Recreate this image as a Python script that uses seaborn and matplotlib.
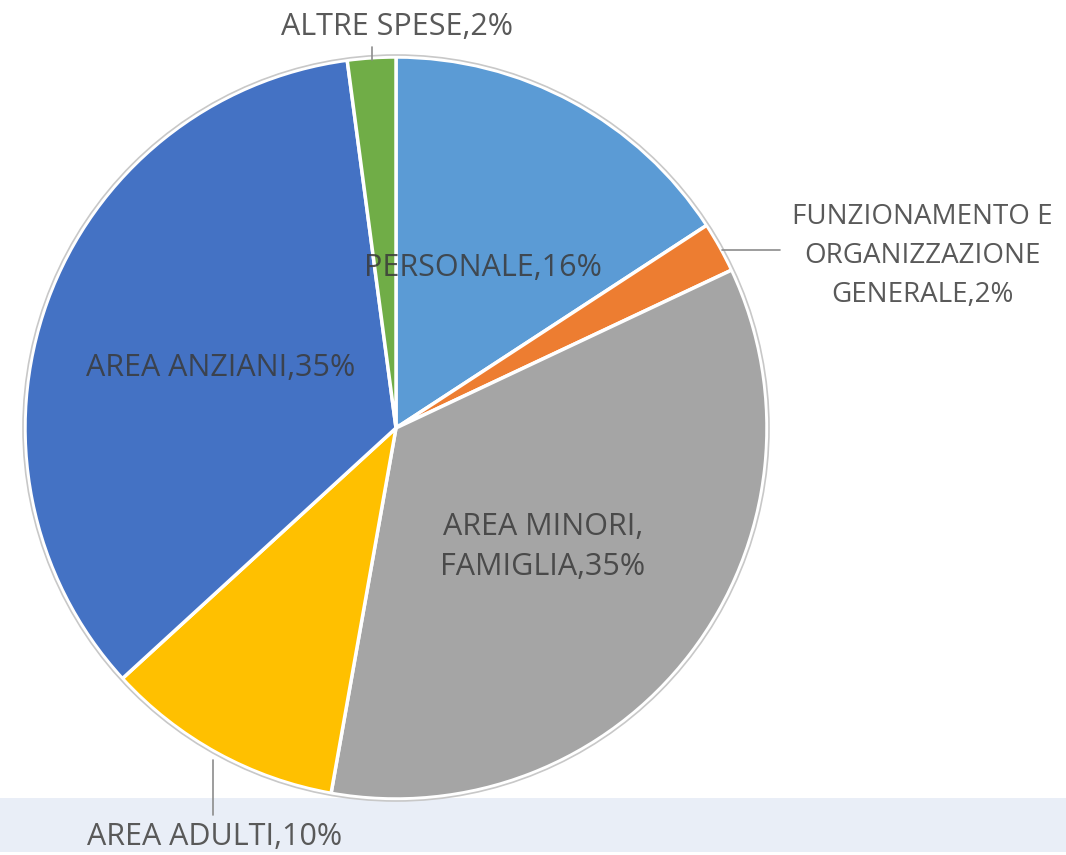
import matplotlib
matplotlib.use("Agg")
import matplotlib.pyplot as plt
import seaborn as sns

categories = ["PERSONALE", "FUNZIONAMENTO E\nORGANIZZAZIONE\nGENERALE", "AREA MINORI,\nFAMIGLIA",
              "AREA ADULTI", "AREA ANZIANI", "ALTRE SPESE"]
shares = [15.8, 2.2, 34.8, 10.4, 34.7, 2.1]
shown_pct = [16, 2, 35, 10, 35, 2]
colors = ["#5B9BD5", "#ED7D31", "#A5A5A5", "#FFC000", "#4472C4", "#70AD47"]

sns.set_theme(style="white")
plt.rcParams["font.family"] = ["Open Sans", "DejaVu Sans"]

fig = plt.figure(figsize=(10.66, 8.55), dpi=100)
ax = fig.add_axes([0, 0, 1, 1])

# light band at the bottom
ax.axhspan(3, 57, color="#E9EEF7", zorder=0, lw=0)

cx, cy, r = 396, 427, 371
ax.pie(shares, colors=colors, startangle=90, counterclock=False, center=(cx, cy), radius=r,
       wedgeprops=dict(edgecolor="white", linewidth=2.5), frame=True)
ax.set_xlim(0, 1066)
ax.set_ylim(0, 855)
ax.axis("off")
ax.add_patch(plt.Circle((cx, cy), r + 2, fill=False, edgecolor="#C8C8C8", lw=1.2, zorder=5))

inside = "#3A3A3A"
outside = "#595959"
fs = 22
lab = [f"{c},{p}%" for c, p in zip(categories, shown_pct)]

ax.text(483, 855 - 268, lab[0], ha="center", va="center", fontsize=fs, color=inside, alpha=0.85, zorder=6)
ax.text(922, 855 - 256, lab[1], ha="center", va="center", fontsize=fs - 2, color=outside,
        linespacing=1.5, zorder=6)
ax.text(543, 855 - 547, lab[2], ha="center", va="center", fontsize=fs, color=inside, alpha=0.85,
        linespacing=1.45, zorder=6)
ax.text(215, 855 - 837, lab[3], ha="center", va="center", fontsize=fs, color=outside, zorder=6)
ax.text(221, 855 - 368, lab[4], ha="center", va="center", fontsize=fs, color=inside, alpha=0.85, zorder=6)
ax.text(397, 855 - 27, lab[5], ha="center", va="center", fontsize=fs, color=outside, zorder=6)

# leader lines
ax.plot([372, 372], [855 - 47, 855 - 60], color="#8C8C8C", lw=1.2, zorder=6)
ax.plot([722, 780], [855 - 250, 855 - 250], color="#8C8C8C", lw=1.2, zorder=6)
ax.plot([213, 213], [855 - 760, 855 - 815], color="#8C8C8C", lw=1.2, zorder=6)

fig.savefig("out.png", dpi=100)
